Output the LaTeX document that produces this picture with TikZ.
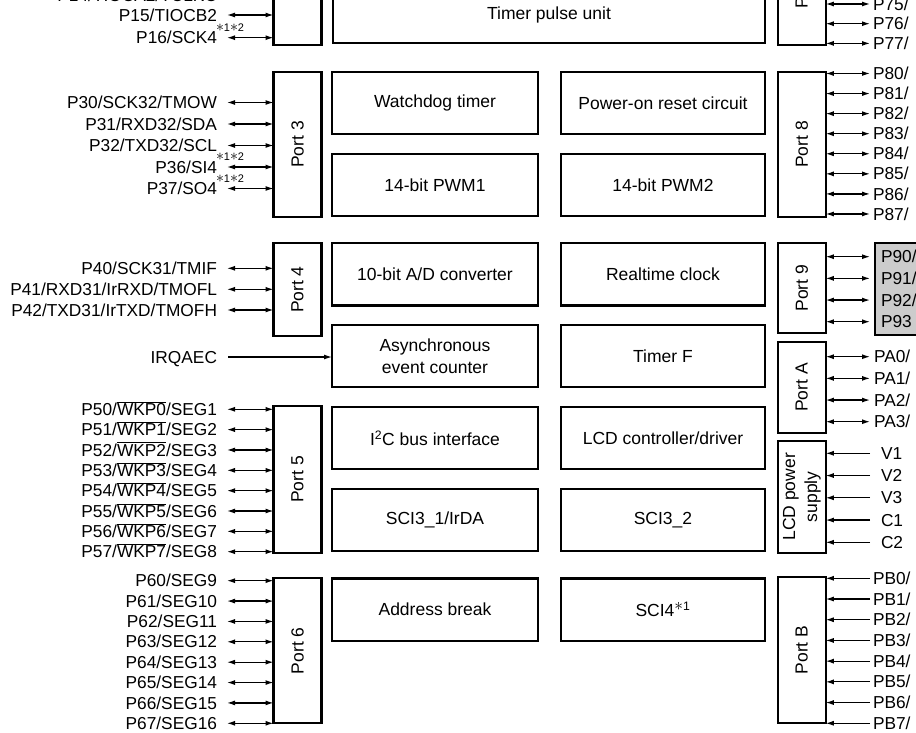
\documentclass[tikz,border=0pt]{standalone}
\usepackage{fontspec}
\setmainfont{Liberation Sans}
\usetikzlibrary{arrows.meta}
% six-spoked note mark used in the pin notes
\newcommand\starmark{\scalebox{1.45}{$\ast$}}

\begin{document}
\begin{tikzpicture}[x=1pt,y=-1pt,
  every node/.style={inner sep=0pt, outer sep=0pt},
  unit/.style={draw, line width=2.2pt, align=center,
    font=\fontsize{17.5}{22}\selectfont},
  blkL/.style={unit, minimum width=206pt, minimum height=62.5pt},
  blkR/.style={unit, minimum width=204pt, minimum height=62.5pt},
  portbox/.style={draw, line width=2.2pt, minimum width=48pt},
  plabel/.style={rotate=90, align=center, font=\fontsize{17.5}{22}\selectfont},
  pinL/.style={anchor=east, font=\fontsize{17.3}{20}\selectfont,
    text height=12.2pt, text depth=0pt},
  pinR/.style={anchor=west, font=\fontsize{17.3}{20}\selectfont,
    text height=12.2pt, text depth=0pt},
  note/.style={anchor=west, font=\fontsize{11}{13}\selectfont},
  tip/.tip={Latex[length=8pt,width=5pt]},
  bi/.style={line width=1.2pt, tip-tip},
  into/.style={line width=1.2pt, -tip},
  hilite/.style={draw, line width=1.8pt, fill=gray!40, anchor=north west}
]
\useasboundingbox (0,0) rectangle (916,733);
\clip (0,0) rectangle (916,733);

% ---------- on-chip peripheral units ----------
\node[unit, minimum width=432pt, minimum height=56.6pt] (tpu) at (549,15) {Timer pulse unit};
\node[blkL] (wdt)  at (435,102.9) {Watchdog timer};
\node[blkR] (por)  at (663,102.9) {Power-on reset circuit};
\node[blkL] (pwm1) at (435,185)   {14-bit PWM1};
\node[blkR] (pwm2) at (663,185)   {14-bit PWM2};
\node[blkL] (adc)  at (435,274.2) {10-bit A/D converter};
\node[blkR] (rtc)  at (663,274.2) {Realtime clock};
\node[blkL] (aec)  at (435,355.9) {Asynchronous\\event counter};
\node[blkR] (tmf)  at (663,355.9) {Timer F};
\node[blkL] (iic)  at (435,438)   {I\textsuperscript{2}C bus interface};
\node[blkR] (lcd)  at (663,438)   {LCD controller/driver};
\node[blkL] (sci1) at (435,520)   {SCI3\_1/IrDA};
\node[blkR] (sci2) at (663,520)   {SCI3\_2};
\node[blkL] (abrk) at (435,609.7) {Address break};
\node[blkR] (sci4) at (663,609.7) {SCI4\textsuperscript{\starmark 1}};

% ---------- I/O ports, left side ----------
\node[portbox, minimum height=145pt]   (p1) at (297.5,-27.5) {};
\node[portbox, minimum height=145.6pt] (p3) at (297.5,144.5) {};
\node[plabel] (p3t) at (p3.center) {Port 3};
\node[portbox, minimum height=92.7pt]  (p4) at (297.5,289.6) {};
\node[plabel] (p4t) at (p4.center) {Port 4};
\node[portbox, minimum height=146.7pt] (p5) at (297.5,479.4) {};
\node[plabel] (p5t) at (p5.center) {Port 5};
\node[portbox, minimum height=145pt]   (p6) at (297.5,650.8) {};
\node[plabel] (p6t) at (p6.center) {Port 6};

% ---------- I/O ports, right side ----------
\node[portbox, minimum height=120pt]   (p7) at (801.75,-15) {};
\node[plabel] (p7t) at (p7.center) {Port 7};
\node[portbox, minimum height=145.6pt] (p8) at (801.75,144.5) {};
\node[plabel] (p8t) at (p8.center) {Port 8};
\node[portbox, minimum height=90pt]    (p9) at (801.75,288.3) {};
\node[plabel] (p9t) at (p9.center) {Port 9};
\node[portbox, minimum height=91.6pt]  (pa) at (801.75,387.5) {};
\node[plabel] (pat) at (pa.center) {Port A};
\node[portbox, minimum height=111.7pt] (lps) at (801.75,496.85) {};
\node[plabel] (lpst) at (lps.center) {LCD power\\supply};
\node[portbox, minimum height=146.6pt] (pb) at (801.75,650) {};
\node[plabel] (pbt) at (pb.center) {Port B};

% ---------- Port 1 pins ----------
\foreach \y/\t [count=\i] in {-5/{P14/TIOCA2/TCLKC}, 15/{P15/TIOCB2}, 37.7/{P16/SCK4}} {
  \node[pinL] (l1\i) at (217,\y) {\t};
  \coordinate (a1\i) at (227,\y);
  \draw[bi] (a1\i) -- (a1\i -| p1.west);
}
\node[note] (n16) at (216,27.5) {\starmark1\starmark2};

% ---------- Port 3 pins ----------
\foreach \y/\t [count=\i] in {102.5/{P30/SCK32/TMOW}, 124/{P31/RXD32/SDA},
    145.5/{P32/TXD32/SCL}, 167/{P36/SI4}, 188.5/{P37/SO4}} {
  \node[pinL] (l3\i) at (217,\y) {\t};
  \coordinate (a3\i) at (227,\y);
  \draw[bi] (a3\i) -- (a3\i -| p3.west);
}
\node[note] (n36) at (216,157) {\starmark1\starmark2};
\node[note] (n37) at (216,178.5) {\starmark1\starmark2};

% ---------- Port 4 pins and IRQAEC ----------
\foreach \y/\t [count=\i] in {268.3/{P40/SCK31/TMIF}, 289.3/{P41/RXD31/IrRXD/TMOFL},
    310/{P42/TXD31/IrTXD/TMOFH}} {
  \node[pinL] (l4\i) at (217,\y) {\t};
  \coordinate (a4\i) at (227,\y);
  \draw[bi] (a4\i) -- (a4\i -| p4.west);
}
\node[pinL] (irq) at (217,357) {IRQAEC};
\coordinate (airq) at (228,357);
\draw[into] (airq) -- (airq -| aec.west);

% ---------- Port 5 pins ----------
\foreach \i in {0,...,7} {
  \pgfmathsetmacro{\y}{409.3+20.34*\i}
  \node[pinL] (l5\i) at (217,\y)
    {P5\i/$\overline{\mbox{WKP\i}}$/SEG\the\numexpr\i+1\relax};
  \coordinate (a5\i) at (227,\y);
  \draw[bi] (a5\i) -- (a5\i -| p5.west);
}

% ---------- Port 6 pins ----------
\foreach \i in {0,...,7} {
  \pgfmathsetmacro{\y}{580.7+20.37*\i}
  \node[pinL] (l6\i) at (217,\y) {P6\i/SEG\the\numexpr\i+9\relax};
  \coordinate (a6\i) at (227,\y);
  \draw[bi] (a6\i) -- (a6\i -| p6.west);
}

% ---------- Port 7 pins ----------
\foreach \i/\y in {5/4, 6/23.7, 7/43.4} {
  \node[pinR] (r7\i) at (873,\y) {P7\i/};
  \coordinate (b7\i) at (870,\y);
  \draw[bi] (b7\i -| p7.east) -- (b7\i);
}

% ---------- Port 8 pins ----------
\foreach \i in {0,...,7} {
  \pgfmathsetmacro{\y}{73.5+20.07*\i}
  \node[pinR] (r8\i) at (873,\y) {P8\i/};
  \coordinate (b8\i) at (870,\y);
  \draw[bi] (b8\i -| p8.east) -- (b8\i);
}

% ---------- Port 9 pins (shaded group) ----------
\node[hilite, minimum width=50pt, minimum height=91.7pt] (p9hl) at (875,243.3) {};
\foreach \i/\t in {0/{P90/}, 1/{P91/}, 2/{P92/}, 3/{P93}} {
  \pgfmathsetmacro{\y}{256.7+21.67*\i}
  \node[pinR] (r9\i) at (881,\y) {\t};
  \coordinate (b9\i) at (870,\y);
  \draw[bi] (b9\i -| p9.east) -- (b9\i);
}

% ---------- Port A pins ----------
\foreach \i in {0,...,3} {
  \pgfmathsetmacro{\y}{356.7+21.67*\i}
  \node[pinR] (ra\i) at (874,\y) {PA\i/};
  \coordinate (ba\i) at (870,\y);
  \draw[bi] (ba\i -| pa.east) -- (ba\i);
}

% ---------- LCD power supply inputs ----------
\foreach \t [count=\i from 0] in {V1, V2, V3, C1, C2} {
  \pgfmathsetmacro{\y}{453.3+22.25*\i}
  \node[pinR] (rl\i) at (881,\y) {\t};
  \coordinate (bl\i) at (870,\y);
  \draw[into] (bl\i) -- (bl\i -| lps.east);
}

% ---------- Port B inputs ----------
\foreach \i in {0,...,7} {
  \pgfmathsetmacro{\y}{578.3+20.71*\i}
  \node[pinR] (rb\i) at (873,\y) {PB\i/};
  \coordinate (bb\i) at (870,\y);
  \draw[into] (bb\i) -- (bb\i -| pb.east);
}
\end{tikzpicture}
\end{document}
